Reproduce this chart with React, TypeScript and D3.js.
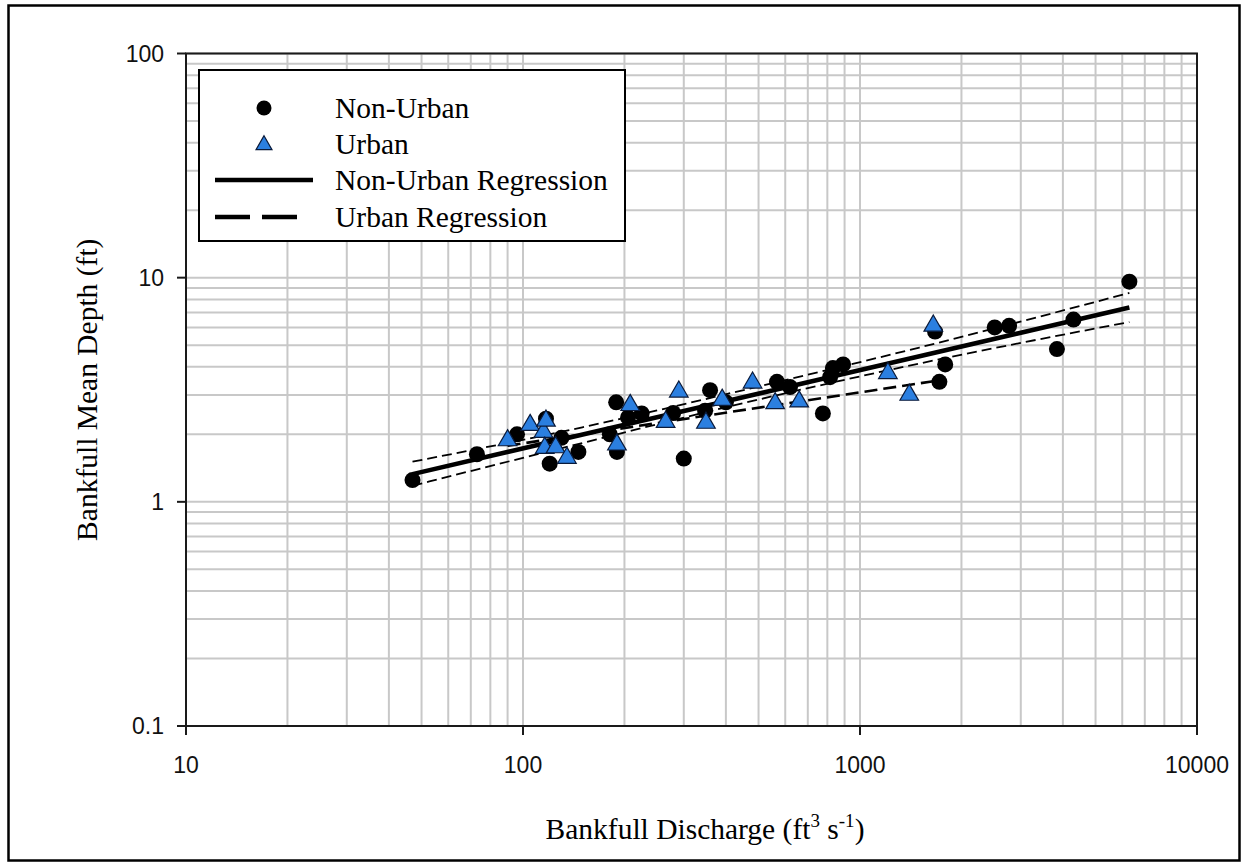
import React, { useRef, useEffect } from 'react';
import * as d3 from 'd3';

// bankfull discharge (ft3/s) and mean depth (ft)
const nonUrbanQ = [47, 73, 96, 117, 120, 130, 146, 181, 189, 190, 205, 225, 279, 300, 347, 359, 400, 567, 620, 776, 815, 831, 891, 1670, 1720, 1790, 2510, 2770, 3840, 4300, 6300];
const nonUrbanD = [1.25, 1.63, 2.0, 2.35, 1.48, 1.93, 1.67, 2.0, 2.78, 1.67, 2.38, 2.48, 2.49, 1.56, 2.55, 3.15, 2.78, 3.43, 3.25, 2.48, 3.6, 3.95, 4.1, 5.75, 3.43, 4.1, 6.0, 6.1, 4.8, 6.5, 9.6];

const urbanQ = [90, 105, 115, 116, 117, 125, 135, 190, 208, 265, 290, 349, 390, 480, 560, 660, 1210, 1400, 1650];
const urbanD = [1.88, 2.2, 2.05, 1.74, 2.3, 1.75, 1.57, 1.8, 2.7, 2.27, 3.1, 2.25, 2.85, 3.4, 2.75, 2.8, 3.75, 3.0, 6.1];

// regression lines (end points) and confidence band of the non-urban fit
const nonUrbanFitQ = [47, 6300];
const nonUrbanFitD = [1.33, 7.36];
const bandQ = [47, 150, 500, 1500, 6300];
const bandUpper = [1.51, 2.15, 3.27, 4.88, 8.55];
const bandLower = [1.18, 1.83, 2.86, 4.14, 6.34];
const urbanFitQ = [90, 1650];
const urbanFitD = [1.78, 3.45];

const xTicks = [10, 100, 1000, 10000];
const yTicks = [0.1, 1, 10, 100];
const legendItems = ['Non-Urban', 'Urban', 'Non-Urban Regression', 'Urban Regression'];

const W = 1247;
const H = 866;
const SERIF = '"Liberation Serif", "Times New Roman", serif';
const SANS = '"Liberation Sans", Arial, sans-serif';
const BLUE = '#2b7fe0';

export default function App() {
  const svgRef = useRef<SVGSVGElement>(null);

  useEffect(() => {
    const svg = d3.select(svgRef.current);
    svg.selectAll('*').remove();

    const x = d3.scaleLog().domain([10, 10000]).range([186, 1197]);
    const y = d3.scaleLog().domain([0.1, 100]).range([726, 53.5]);

    svg.append('rect').attr('width', W).attr('height', H).attr('fill', '#fff');
    // outer frame
    svg.append('rect')
      .attr('x', 8.5).attr('y', 5.5).attr('width', 1231).attr('height', 855)
      .attr('fill', 'none').attr('stroke', '#000').attr('stroke-width', 2.5);

    // grid
    const gridVals = (lo: number, hi: number) => {
      const out: number[] = [];
      for (let d = lo; d < hi; d *= 10) for (let m = 1; m < 10; m++) out.push(d * m);
      out.push(hi);
      return out;
    };
    const grid = svg.append('g').attr('stroke', '#c8c8c8').attr('stroke-width', 2);
    grid.selectAll('.gx').data(gridVals(10, 10000)).join('line')
      .attr('x1', d => x(d)).attr('x2', d => x(d))
      .attr('y1', y(0.1)).attr('y2', y(100));
    grid.selectAll('.gy').data(gridVals(0.1, 100)).join('line')
      .attr('y1', d => y(d)).attr('y2', d => y(d))
      .attr('x1', x(10)).attr('x2', x(10000));

    // plot frame + major ticks
    svg.append('rect')
      .attr('x', x(10)).attr('y', y(100))
      .attr('width', x(10000) - x(10)).attr('height', y(0.1) - y(100))
      .attr('fill', 'none').attr('stroke', '#1a1a1a').attr('stroke-width', 2);
    svg.append('g').selectAll('line').data(xTicks).join('line')
      .attr('x1', d => x(d)).attr('x2', d => x(d))
      .attr('y1', y(0.1)).attr('y2', y(0.1) + 9)
      .attr('stroke', '#1a1a1a').attr('stroke-width', 2);
    svg.append('g').selectAll('line').data(yTicks).join('line')
      .attr('y1', d => y(d)).attr('y2', d => y(d))
      .attr('x1', x(10) - 9).attr('x2', x(10))
      .attr('stroke', '#1a1a1a').attr('stroke-width', 2);

    svg.append('g').selectAll('text').data(xTicks).join('text')
      .attr('x', d => x(d)).attr('y', 773)
      .attr('text-anchor', 'middle')
      .attr('font-family', SANS).attr('font-size', 23).attr('fill', '#111')
      .text(d => String(d));
    svg.append('g').selectAll('text').data(yTicks).join('text')
      .attr('x', 164).attr('y', d => y(d))
      .attr('text-anchor', 'end').attr('dominant-baseline', 'central')
      .attr('font-family', SANS).attr('font-size', 23).attr('fill', '#111')
      .text(d => String(d));

    // axis titles
    svg.append('text')
      .attr('transform', `translate(97,${(y(0.1) + y(100)) / 2}) rotate(-90)`)
      .attr('text-anchor', 'middle')
      .attr('font-family', SERIF).attr('font-size', 29.5)
      .text('Bankfull Mean Depth (ft)');
    const xt = svg.append('text')
      .attr('x', 705).attr('y', 839)
      .attr('text-anchor', 'middle')
      .attr('font-family', SERIF).attr('font-size', 29.5);
    xt.append('tspan').text('Bankfull Discharge (ft');
    xt.append('tspan').attr('font-size', 19).attr('dy', -12).text('3');
    xt.append('tspan').attr('dy', 12).text(' s');
    xt.append('tspan').attr('font-size', 19).attr('dy', -12).text('-1');
    xt.append('tspan').attr('dy', 12).text(')');

    // regression lines
    const line = d3.line<[number, number]>().x(d => x(d[0])).y(d => y(d[1]));
    const curve = d3.line<[number, number]>().x(d => x(d[0])).y(d => y(d[1])).curve(d3.curveMonotoneX);
    const zip = (a: number[], b: number[]) => a.map((v, i) => [v, b[i]] as [number, number]);

    [bandUpper, bandLower].forEach(band => {
      svg.append('path')
        .attr('d', curve(zip(bandQ, band)))
        .attr('fill', 'none').attr('stroke', '#000')
        .attr('stroke-width', 1.8).attr('stroke-dasharray', '10,5');
    });
    svg.append('path')
      .attr('d', line(zip(urbanFitQ, urbanFitD)))
      .attr('fill', 'none').attr('stroke', '#000')
      .attr('stroke-width', 2.6).attr('stroke-dasharray', '13,6');
    svg.append('path')
      .attr('d', line(zip(nonUrbanFitQ, nonUrbanFitD)))
      .attr('fill', 'none').attr('stroke', '#000').attr('stroke-width', 4.5);

    // points
    svg.append('g').selectAll('circle').data(zip(nonUrbanQ, nonUrbanD)).join('circle')
      .attr('cx', d => x(d[0])).attr('cy', d => y(d[1])).attr('r', 8)
      .attr('fill', '#000');
    const tri = d3.symbol().type(d3.symbolTriangle).size(150);
    svg.append('g').selectAll('path').data(zip(urbanQ, urbanD)).join('path')
      .attr('transform', d => `translate(${x(d[0])},${y(d[1])})`)
      .attr('d', tri())
      .attr('fill', BLUE).attr('stroke', '#0a1a3a').attr('stroke-width', 1.2);

    // legend
    const lg = svg.append('g');
    lg.append('rect')
      .attr('x', 199).attr('y', 70).attr('width', 426).attr('height', 171)
      .attr('fill', '#fff').attr('stroke', '#000').attr('stroke-width', 2);
    const rowY = [108, 144, 180, 217];
    lg.append('circle').attr('cx', 264).attr('cy', rowY[0]).attr('r', 7.5).attr('fill', '#000');
    lg.append('path')
      .attr('transform', `translate(264,${rowY[1] + 1})`)
      .attr('d', d3.symbol().type(d3.symbolTriangle).size(110)())
      .attr('fill', BLUE).attr('stroke', '#0a1a3a').attr('stroke-width', 1.2);
    lg.append('line').attr('x1', 215).attr('x2', 313).attr('y1', rowY[2]).attr('y2', rowY[2])
      .attr('stroke', '#000').attr('stroke-width', 4.5);
    lg.append('line').attr('x1', 215).attr('x2', 297).attr('y1', rowY[3]).attr('y2', rowY[3])
      .attr('stroke', '#000').attr('stroke-width', 4.5).attr('stroke-dasharray', '35,12');
    lg.selectAll('text').data(legendItems).join('text')
      .attr('x', 335).attr('y', (_, i) => rowY[i] + 10)
      .attr('font-family', SERIF).attr('font-size', 29.5)
      .text(d => d);
  }, []);

  return (
    <svg
      ref={svgRef}
      width={W}
      height={H}
      style={{ position: 'absolute', left: 0, top: 0, display: 'block' }}
    />
  );
}
